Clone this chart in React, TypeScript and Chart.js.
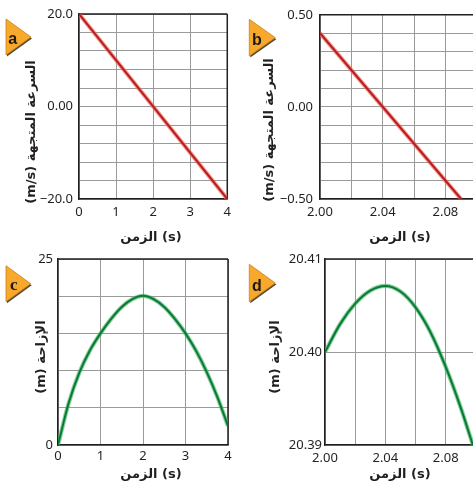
import React, { useEffect, useRef } from 'react';
import { Chart, registerables } from 'chart.js';

Chart.register(...registerables);

// ---------- data ----------
const timeA = [0, 4];
const velocityA = [20, -20];

const timeB = [2.0, 2.09];
const velocityB = [0.4, -0.5];

const timeC = [0, 0.25, 0.5, 0.75, 1, 1.25, 1.5, 1.75, 2, 2.25, 2.5, 2.75, 3, 3.25, 3.5, 3.75, 4];
const displacementC = [0, 5.6, 9.7, 12.7, 15.0, 16.95, 18.55, 19.6, 20.05, 19.6, 18.55, 16.95, 15.0, 12.65, 9.8, 6.45, 2.55];

const timeD = [2.0, 2.01, 2.02, 2.03, 2.04, 2.05, 2.06, 2.07, 2.08, 2.09, 2.098];
const displacementD = [20.4, 20.403, 20.4052, 20.4066, 20.4071, 20.4065, 20.4048, 20.4021, 20.3984, 20.394, 20.39];

// ---------- ticks ----------
const xTicksA = [0, 1, 2, 3, 4];
const xLabelsA = ['0', '1', '2', '3', '4'];
const yTicksA = [-20, -16, -12, -8, -4, 0, 4, 8, 12, 16, 20];
const yLabelsA = ['\u221220.0', '', '', '', '', '0.00', '', '', '', '', '20.0'];

const xTicksB = [2.0, 2.02, 2.04, 2.06, 2.08];
const xLabelsB = ['2.00', '', '2.04', '', '2.08'];
const yTicksB = [-0.5, -0.4, -0.3, -0.2, -0.1, 0, 0.1, 0.2, 0.3, 0.4, 0.5];
const yLabelsB = ['\u22120.50', '', '', '', '', '0.00', '', '', '', '', '0.50'];

const xTicksC = [0, 1, 2, 3, 4];
const xLabelsC = ['0', '1', '2', '3', '4'];
const yTicksC = [0, 5, 10, 15, 20, 25];
const yLabelsC = ['0', '', '', '', '', '25'];

const xTicksD = [2.0, 2.02, 2.04, 2.06, 2.08];
const xLabelsD = ['2.00', '', '2.04', '', '2.08'];
const yTicksD = [20.39, 20.4, 20.41];
const yLabelsD = ['20.39', '20.40', '20.41'];

const velocityTitle = '(m/s) السرعة المتجهة';
const displacementTitle = '(m) الإزاحة';
const timeTitle = 'الزمن (s)';

// ---------- styles ----------
const FRAME = '#231f20';
const GRID = '#9a9a9a';
const TEXT = '#231f20';
const TICK_FONT = { family: '"Noto Sans", sans-serif', size: 13 };
const RED = '#b81c20';
const RED_GLOW = 'rgba(238,110,95,0.7)';
const GREEN = '#087a36';
const GREEN_GLOW = 'rgba(70,180,100,0.65)';

const decorPlugin = {
  id: 'panelDecor',
  beforeDatasetsDraw(chart: any, _args: any, opts: any) {
    const { ctx, chartArea: ca } = chart;
    ctx.save();
    ctx.strokeStyle = FRAME;
    ctx.lineWidth = 1.5;
    ctx.beginPath();
    ctx.moveTo(ca.left, ca.top);
    ctx.lineTo(ca.right, ca.top);
    if (opts.frameRight) {
      ctx.moveTo(ca.right, ca.top);
      ctx.lineTo(ca.right, ca.bottom);
    }
    ctx.stroke();
    ctx.restore();
  },
  afterDraw(chart: any, _args: any, opts: any) {
    const ctx = chart.ctx;
    ctx.save();
    // badge
    const [x0, y0, x1, y1] = opts.badge;
    const ym = (y0 + y1) / 2;
    ctx.beginPath();
    ctx.moveTo(x0 + 1, y0 + 1.5);
    ctx.lineTo(x1 + 1, ym + 1.5);
    ctx.lineTo(x0 + 1, y1 + 1.5);
    ctx.closePath();
    ctx.fillStyle = '#5a4a35';
    ctx.fill();
    ctx.beginPath();
    ctx.moveTo(x0, y0);
    ctx.lineTo(x1, ym);
    ctx.lineTo(x0, y1);
    ctx.closePath();
    ctx.fillStyle = '#f8a82b';
    ctx.fill();
    ctx.strokeStyle = '#c98314';
    ctx.lineWidth = 0.8;
    ctx.stroke();
    ctx.fillStyle = '#1a1a1a';
    ctx.font = opts.letterFont;
    ctx.textAlign = 'center';
    ctx.textBaseline = 'alphabetic';
    ctx.fillText(opts.letter, opts.letterPos[0], opts.letterPos[1]);
    // x title
    ctx.fillStyle = TEXT;
    ctx.font = 'bold 13px "DejaVu Sans", sans-serif';
    ctx.textAlign = 'center';
    ctx.textBaseline = 'middle';
    ctx.fillText(opts.xTitle, opts.xTitlePos[0], opts.xTitlePos[1]);
    // y title
    ctx.translate(opts.yTitlePos[0], opts.yTitlePos[1]);
    ctx.rotate(-Math.PI / 2);
    ctx.fillText(opts.yTitle, 0, 0);
    ctx.restore();
  },
};

type Panel = {
  xs: number[]; ys: number[];
  color: string; glow: string; smooth: boolean;
  xMin: number; xMax: number; yMin: number; yMax: number;
  xTicks: number[]; xLabels: string[]; yTicks: number[]; yLabels: string[];
  box: { left: number; top: number; w: number; h: number };
  area: { left: number; right: number; top: number; bottom: number };
  xPad: number; yPad: number;
  decor: any;
};

const panels: Panel[] = [
  {
    xs: timeA, ys: velocityA, color: RED, glow: RED_GLOW, smooth: false,
    xMin: 0, xMax: 4, yMin: -20, yMax: 20,
    xTicks: xTicksA, xLabels: xLabelsA, yTicks: yTicksA, yLabels: yLabelsA,
    box: { left: 0, top: 0, w: 236, h: 245 },
    area: { left: 79, right: 228, top: 14, bottom: 199 },
    xPad: 5, yPad: 6,
    decor: {
      frameRight: true, badge: [6, 19, 31, 55], letter: 'a', letterPos: [12.8, 43.5],
      letterFont: 'bold 16px "Liberation Sans", sans-serif',
      yTitle: velocityTitle, yTitlePos: [32, 132], xTitle: timeTitle, xTitlePos: [151, 238],
    },
  },
  {
    xs: timeB, ys: velocityB, color: RED, glow: RED_GLOW, smooth: false,
    xMin: 2.0, xMax: 2.0976, yMin: -0.5, yMax: 0.5,
    xTicks: xTicksB, xLabels: xLabelsB, yTicks: yTicksB, yLabels: yLabelsB,
    box: { left: 236, top: 0, w: 237, h: 245 },
    area: { left: 84, right: 237, top: 14, bottom: 199 },
    xPad: 5, yPad: 7,
    decor: {
      frameRight: false, badge: [13.3, 19.3, 39.3, 56], letter: 'b', letterPos: [21, 44.5],
      letterFont: 'bold 16px "Liberation Sans", sans-serif',
      yTitle: velocityTitle, yTitlePos: [34, 130], xTitle: timeTitle, xTitlePos: [164, 238],
    },
  },
  {
    xs: timeC, ys: displacementC, color: GREEN, glow: GREEN_GLOW, smooth: true,
    xMin: 0, xMax: 4, yMin: 0, yMax: 25,
    xTicks: xTicksC, xLabels: xLabelsC, yTicks: yTicksC, yLabels: yLabelsC,
    box: { left: 0, top: 245, w: 236, h: 248 },
    area: { left: 58, right: 228, top: 14, bottom: 200 },
    xPad: 3, yPad: 5,
    decor: {
      frameRight: true, badge: [6, 20.7, 30.7, 56.7], letter: 'c', letterPos: [13.7, 44.5],
      letterFont: 'bold 17px "Liberation Serif", serif',
      yTitle: displacementTitle, yTitlePos: [42, 112], xTitle: timeTitle, xTitlePos: [151, 230],
    },
  },
  {
    xs: timeD, ys: displacementD, color: GREEN, glow: GREEN_GLOW, smooth: true,
    xMin: 2.0, xMax: 2.0981, yMin: 20.39, yMax: 20.41,
    xTicks: xTicksD, xLabels: xLabelsD, yTicks: yTicksD, yLabels: yLabelsD,
    box: { left: 236, top: 245, w: 237, h: 248 },
    area: { left: 89, right: 237, top: 14, bottom: 200 },
    xPad: 5.5, yPad: 3,
    decor: {
      frameRight: false, badge: [13.3, 19.3, 39.3, 56.7], letter: 'd', letterPos: [21, 45.5],
      letterFont: 'bold 16px "Liberation Sans", sans-serif',
      yTitle: displacementTitle, yTitlePos: [40, 112], xTitle: timeTitle, xTitlePos: [164, 230],
    },
  },
];

function buildConfig(p: Panel): any {
  const pts = p.xs.map((x, i) => ({ x, y: p.ys[i] }));
  const common: any = { pointRadius: 0, fill: false };
  if (p.smooth) common.cubicInterpolationMode = 'monotone';
  return {
    type: 'line',
    data: {
      // dataset 0 is painted on top in Chart.js
      datasets: [
        { ...common, data: pts, borderColor: p.color, borderWidth: 2 },
        { ...common, data: pts, borderColor: p.glow, borderWidth: 4.2 },
      ],
    },
    options: {
      responsive: false,
      animation: false,
      events: [],
      layout: { padding: { left: 0, top: p.area.top, right: p.box.w - p.area.right, bottom: 0 } },
      plugins: { legend: { display: false }, tooltip: { enabled: false }, panelDecor: p.decor },
      scales: {
        x: {
          type: 'linear', min: p.xMin, max: p.xMax,
          afterBuildTicks: (s: any) => { s.ticks = p.xTicks.map((v) => ({ value: v })); },
          afterFit: (s: any) => { s.height = p.box.h - p.area.bottom; },
          ticks: {
            autoSkip: false, maxRotation: 0, minRotation: 0, padding: p.xPad,
            font: TICK_FONT, color: TEXT,
            callback: (_v: any, i: number) => p.xLabels[i] ?? '',
          },
          grid: { color: GRID, lineWidth: 1, drawTicks: false },
          border: { color: FRAME, width: 1.5 },
        },
        y: {
          type: 'linear', min: p.yMin, max: p.yMax,
          afterBuildTicks: (s: any) => { s.ticks = p.yTicks.map((v) => ({ value: v })); },
          afterFit: (s: any) => { s.width = p.area.left; },
          ticks: {
            autoSkip: false, padding: p.yPad, font: TICK_FONT, color: TEXT,
            callback: (_v: any, i: number) => p.yLabels[i] ?? '',
          },
          grid: { color: GRID, lineWidth: 1, drawTicks: false },
          border: { color: FRAME, width: 1.5 },
        },
      },
    },
    plugins: [decorPlugin],
  };
}

function PanelChart({ p }: { p: Panel }) {
  const ref = useRef<HTMLCanvasElement | null>(null);
  useEffect(() => {
    if (!ref.current) return;
    const chart = new Chart(ref.current, buildConfig(p));
    return () => chart.destroy();
  }, [p]);
  return (
    <canvas
      ref={ref}
      width={p.box.w}
      height={p.box.h}
      style={{ position: 'absolute', left: p.box.left, top: p.box.top, width: p.box.w, height: p.box.h }}
    />
  );
}

export default function App() {
  return (
    <div style={{ position: 'fixed', left: 0, top: 0, width: 473, height: 493, overflow: 'hidden', background: '#fff' }}>
      {panels.map((p, i) => (
        <PanelChart key={i} p={p} />
      ))}
    </div>
  );
}
